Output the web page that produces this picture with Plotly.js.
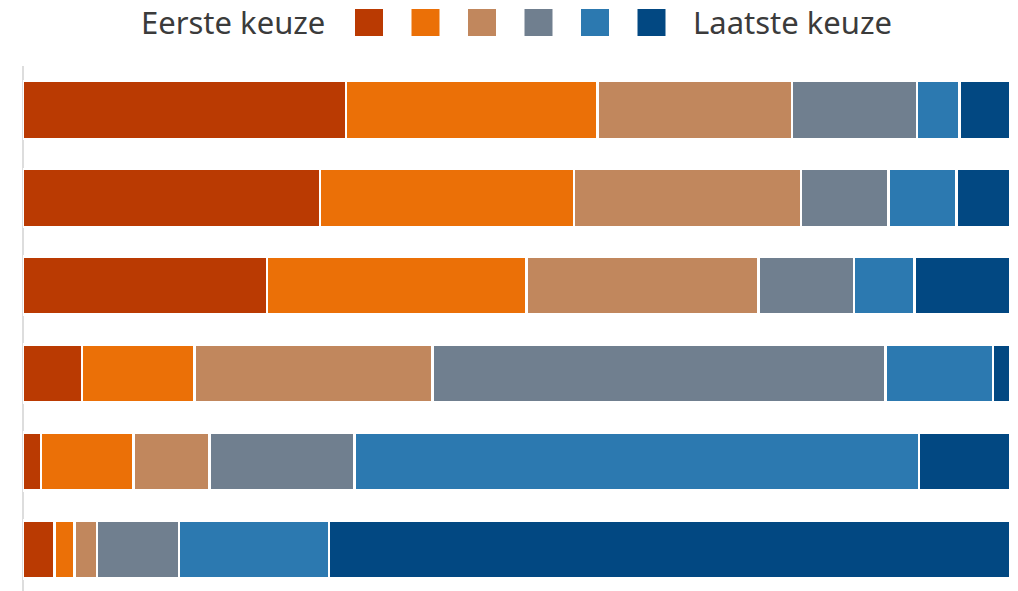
<!DOCTYPE html>
<html>
<head>
<meta charset="utf-8">
<script src="https://cdn.plot.ly/plotly-3.0.1.min.js"></script>
<style>
  html, body { margin: 0; padding: 0; background: #fff; }
  #chart { width: 1018px; height: 591px; }
</style>
</head>
<body>
<div id="chart"></div>
<script>
// rows, top to bottom
let items = ['Item 1', 'Item 2', 'Item 3', 'Item 4', 'Item 5', 'Item 6'];

// share per choice (percent), first choice .. last choice
let keuze1 = [32.7, 30.1, 24.7, 6.0, 1.8, 3.2];
let keuze2 = [25.5, 25.7, 26.3, 11.4, 9.4, 2.0];
let keuze3 = [19.7, 23.0, 23.5, 24.1, 7.7, 2.3];
let keuze4 = [12.7, 8.9, 9.7, 45.9, 14.7, 8.3];
let keuze5 = [4.3, 6.9, 6.1, 10.9, 57.2, 15.2];
let keuze6 = [5.1, 5.4, 9.7, 1.7, 9.2, 69.0];

let series = [keuze1, keuze2, keuze3, keuze4, keuze5, keuze6];
let colors = ['#BA3A02', '#EB7007', '#C1875D', '#707F8F', '#2C79B0', '#024882'];

let data = series.map(function (vals, i) {
  return {
    type: 'bar',
    orientation: 'h',
    y: items,
    x: vals,
    name: 'Keuze ' + (i + 1),
    marker: { color: colors[i], line: { color: '#ffffff', width: 2.5 } },
    hoverinfo: 'x'
  };
});

// plot area in pixels
let L = 23, R = 1010, T = 66, B = 591;
function px(x) { return (x - L) / (R - L); }
function py(y) { return (B - y) / (B - T); }

// custom legend: squares between two labels
let shapes = colors.map(function (c, i) {
  let x0 = 355 + i * 56.5;
  return {
    type: 'rect', xref: 'paper', yref: 'paper',
    x0: px(x0), x1: px(x0 + 28), y0: py(36), y1: py(9),
    fillcolor: c, line: { width: 0 }
  };
});

let textFont = { family: 'Noto Sans, DejaVu Sans, sans-serif', size: 31, color: '#3b3b3b' };

let layout = {
  barmode: 'stack',
  bargap: 0.34,
  showlegend: false,
  margin: { l: L, r: 1018 - R, t: T, b: 0 },
  paper_bgcolor: '#ffffff',
  plot_bgcolor: '#ffffff',
  xaxis: {
    range: [0, 100],
    showgrid: false,
    showticklabels: false,
    ticks: '',
    zeroline: true,
    zerolinecolor: '#dddddd',
    zerolinewidth: 2,
    fixedrange: true
  },
  yaxis: {
    type: 'category',
    range: [5.473, -0.5],
    showgrid: false,
    showticklabels: false,
    ticks: '',
    zeroline: false,
    fixedrange: true
  },
  shapes: shapes,
  annotations: [
    { text: 'Eerste keuze', xref: 'paper', yref: 'paper', x: px(327), y: py(22),
      xanchor: 'right', yanchor: 'middle', showarrow: false, font: textFont },
    { text: 'Laatste keuze', xref: 'paper', yref: 'paper', x: px(691), y: py(22),
      xanchor: 'left', yanchor: 'middle', showarrow: false, font: textFont }
  ]
};

Plotly.newPlot('chart', data, layout, { displayModeBar: false, staticPlot: true });
</script>
</body>
</html>
